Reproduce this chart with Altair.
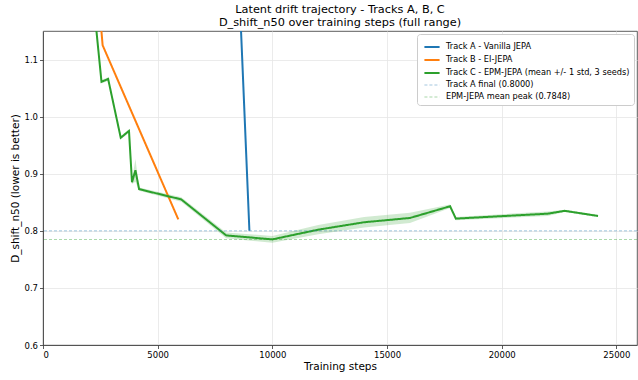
import altair as alt
import pandas as pd

# ---- data ----
a_steps = [8000, 9000]
a_vals = [1.76, 0.80]

b_steps = [2400, 2600, 5900]
b_vals = [1.22, 1.125, 0.82]

c_steps = [2000, 2550, 2840, 3390, 3750, 3880, 4030, 4190, 6030, 7985, 10000,
           12000, 14000, 16000, 17750, 18000, 22000, 22750, 24200]
c_mean = [1.284, 1.061, 1.066, 0.963, 0.975, 0.885, 0.906, 0.873, 0.855, 0.792, 0.785,
          0.802, 0.815, 0.8225, 0.843, 0.8214, 0.830, 0.835, 0.826]
c_std = [0.01, 0.003, 0.003, 0.003, 0.003, 0.003, 0.02, 0.003, 0.004, 0.005, 0.006,
         0.008, 0.009, 0.009, 0.003, 0.003, 0.004, 0.002, 0.002]

ref_names = ["Track A final (0.8000)", "EPM-JEPA mean peak (0.7848)"]
ref_vals = [0.8000, 0.7848]

series = ["Track A - Vanilla JEPA", "Track B - EI-JEPA",
          "Track C - EPM-JEPA (mean +/- 1 std, 3 seeds)"] + ref_names
colors = ["#1f77b4", "#ff7f0e", "#2ca02c", "#1f77b4", "#2ca02c"]
dashes = [[1, 0], [1, 0], [1, 0], [3, 2], [3, 2]]
opacities = [1, 1, 1, 0.5, 0.5]
widths = [2, 2, 2, 0.8, 0.8]

x_ticks = [0, 5000, 10000, 15000, 20000, 25000]
y_ticks = [0.6, 0.7, 0.8, 0.9, 1.0, 1.1]

# ---- tables ----
rows = []
for s, v in zip(a_steps, a_vals):
    rows.append({"step": s, "val": v, "series": series[0]})
for s, v in zip(b_steps, b_vals):
    rows.append({"step": s, "val": v, "series": series[1]})
for s, v in zip(c_steps, c_mean):
    rows.append({"step": s, "val": v, "series": series[2]})
lines_df = pd.DataFrame(rows)

band_df = pd.DataFrame({
    "step": c_steps,
    "lo": [m - s for m, s in zip(c_mean, c_std)],
    "hi": [m + s for m, s in zip(c_mean, c_std)],
})

ref_df = pd.DataFrame({"val": ref_vals, "series": ref_names})

xs = alt.Scale(domain=[0, 25900], nice=False, zero=False)
ys = alt.Scale(domain=[0.6, 1.15], nice=False, zero=False)

x_enc = alt.X("step:Q", scale=xs, title="Training steps",
              axis=alt.Axis(values=x_ticks, format="d"))
y_axis = alt.Axis(values=y_ticks, format=".1f")

legend = alt.Legend(title=None, orient="top-right", symbolType="stroke",
                    symbolSize=230, labelFontSize=8.2, labelLimit=400,
                    fillColor="white", strokeColor="#cccccc", padding=4,
                    cornerRadius=3, rowPadding=-6, offset=3, symbolOffset=2,
                    labelOffset=5)

color_enc = alt.Color("series:N", scale=alt.Scale(domain=series, range=colors),
                      legend=legend, sort=series)
dash_enc = alt.StrokeDash("series:N", scale=alt.Scale(domain=series, range=dashes),
                          legend=legend, sort=series)
op_enc = alt.Opacity("series:O", scale=alt.Scale(type="ordinal", domain=series, range=opacities),
                     legend=legend, sort=series)
sw_enc = alt.StrokeWidth("series:O", scale=alt.Scale(type="ordinal", domain=series, range=widths),
                         legend=legend, sort=series)

band = alt.Chart(band_df).mark_area(color="#2ca02c", opacity=0.22, clip=True).encode(
    x=x_enc,
    y=alt.Y("lo:Q", scale=ys, axis=y_axis, title="D_shift_n50 (lower is better)"),
    y2="hi:Q",
)

lines = alt.Chart(lines_df).mark_line(clip=True).encode(
    x=x_enc,
    y=alt.Y("val:Q", scale=ys, axis=y_axis, title="D_shift_n50 (lower is better)"),
    color=color_enc, strokeDash=dash_enc, opacity=op_enc, strokeWidth=sw_enc,
    order="step:Q",
)

rules = alt.Chart(ref_df).mark_rule(strokeWidth=0.8, opacity=0.5).encode(
    y=alt.Y("val:Q", scale=ys),
    color=color_enc, strokeDash=dash_enc, opacity=op_enc, strokeWidth=sw_enc,
)

chart = alt.layer(band, lines, rules).properties(
    width=594, height=314,
    title=alt.TitleParams(
        ["Latent drift trajectory - Tracks A, B, C",
         "D_shift_n50 over training steps (full range)"],
        fontSize=11.3, fontWeight="normal", font="DejaVu Sans", color="black",
        anchor="middle", offset=3, lineHeight=12.5),
    autosize=alt.AutoSizeParams(type="none"),
    padding={"left": 43, "top": 31, "right": 1, "bottom": 35},
).configure_view(
    stroke="#333333", strokeWidth=0.8
).configure_axis(
    labelFont="DejaVu Sans", titleFont="DejaVu Sans",
    labelFontSize=8.5, titleFontSize=10.5, titleFontWeight="normal",
    labelColor="black", titleColor="black",
    domainColor="#333333", domainWidth=0.8,
    tickColor="#333333", tickSize=3.5, tickWidth=0.8,
    gridColor="#e6e6e6", gridWidth=0.8,
    labelPadding=2,
).configure_axisX(
    titlePadding=2
).configure_axisY(
    titlePadding=3
).configure_legend(
    labelFont="DejaVu Sans"
)

chart.save("out.html", embed_options={"renderer": "svg", "actions": False})
